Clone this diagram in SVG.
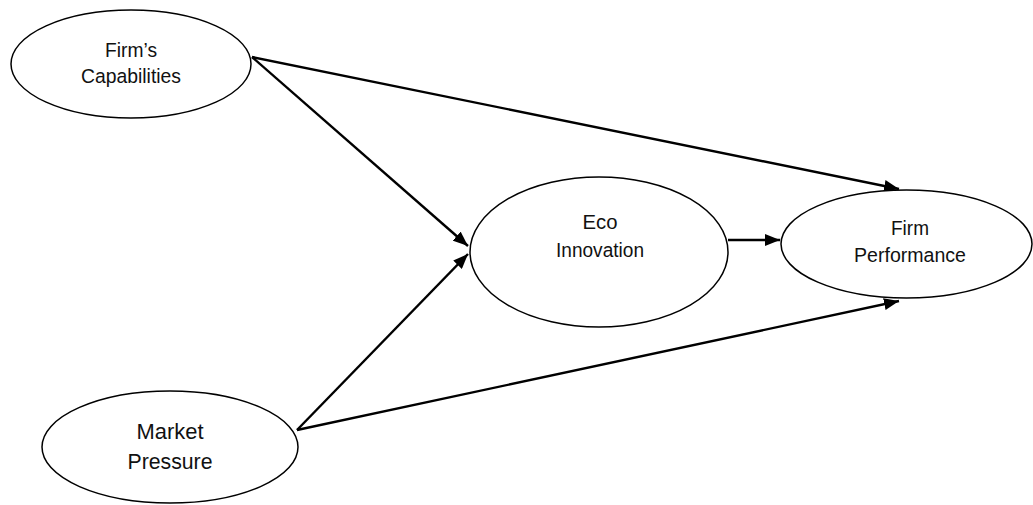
<svg xmlns="http://www.w3.org/2000/svg" width="1033" height="505" viewBox="0 0 1033 505">
<defs>
<style>
.node ellipse{fill:#fff;stroke:#000;stroke-width:1.5}
.node text{font-family:"Liberation Sans",Arial,sans-serif;font-size:20.5px;fill:#111;text-anchor:middle}
.edge line{stroke:#000;stroke-width:2.4;marker-end:url(#ah)}
</style>
<marker id="ah" markerWidth="15" markerHeight="12" refX="15" refY="6" orient="auto" markerUnits="userSpaceOnUse">
<path d="M0,0 L15,6 L0,12 z" fill="#000"/>
</marker>
</defs>
<rect width="1033" height="505" fill="#fff"/>
<g id="connectors" class="edge">
<line x1="252" y1="57" x2="468" y2="246"/>
<line x1="252" y1="57" x2="899" y2="189"/>
<line x1="297" y1="430" x2="468" y2="254"/>
<line x1="297" y1="430" x2="899" y2="301"/>
<line x1="728" y1="240" x2="780" y2="240"/>
</g>
<g id="firms-capabilities" class="node">
<ellipse cx="131" cy="64" rx="120" ry="54"/>
<text x="131" y="57" textLength="52" lengthAdjust="spacingAndGlyphs">Firm’s</text>
<text x="131" y="83" textLength="100" lengthAdjust="spacingAndGlyphs">Capabilities</text>
</g>
<g id="eco-innovation" class="node">
<ellipse cx="599" cy="252" rx="129" ry="75"/>
<text x="600" y="229" textLength="35" lengthAdjust="spacingAndGlyphs">Eco</text>
<text x="600" y="257" textLength="88" lengthAdjust="spacingAndGlyphs">Innovation</text>
</g>
<g id="firm-performance" class="node">
<ellipse cx="906.5" cy="244" rx="125.5" ry="54"/>
<text x="910" y="235" textLength="38" lengthAdjust="spacingAndGlyphs">Firm</text>
<text x="910" y="262" textLength="112" lengthAdjust="spacingAndGlyphs">Performance</text>
</g>
<g id="market-pressure" class="node">
<ellipse cx="170" cy="447" rx="128" ry="56"/>
<text x="170" y="439" style="font-size:22.5px" textLength="67" lengthAdjust="spacingAndGlyphs">Market</text>
<text x="170" y="469" style="font-size:22.5px" textLength="85" lengthAdjust="spacingAndGlyphs">Pressure</text>
</g>
</svg>
